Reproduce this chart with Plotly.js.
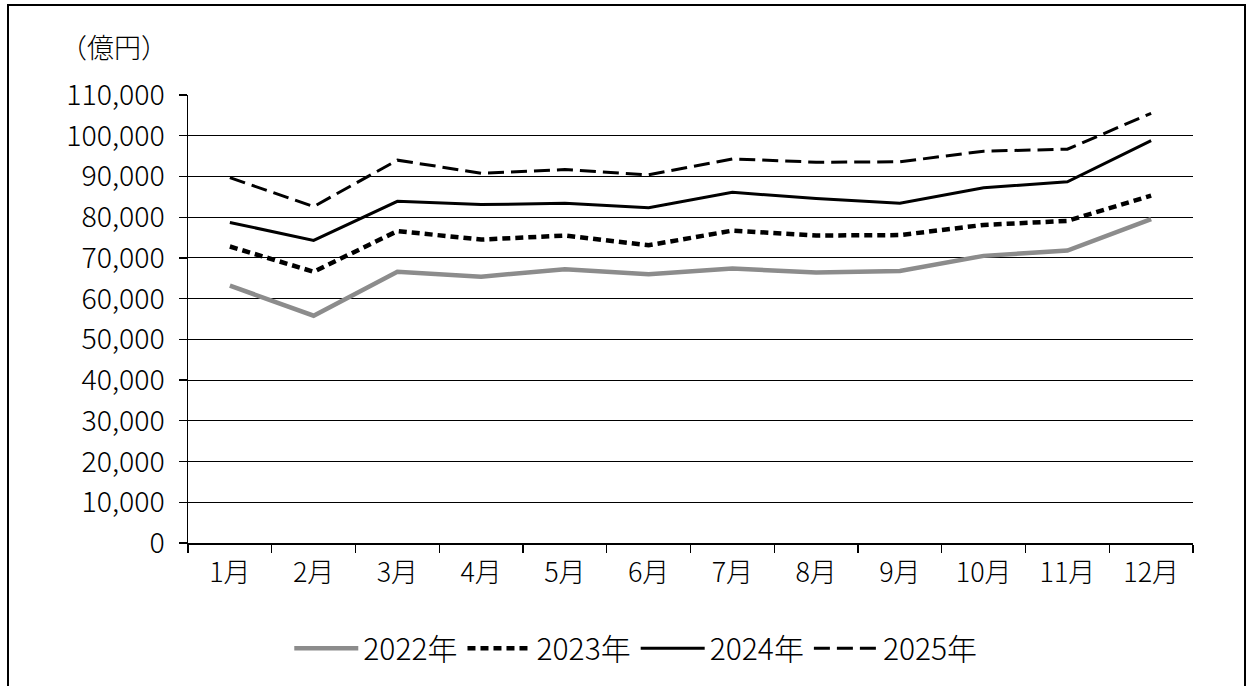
<!DOCTYPE html>
<html>
<head>
<meta charset="utf-8">
<script src="https://cdn.plot.ly/plotly-3.0.1.min.js"></script>
<style>
  html, body { margin: 0; padding: 0; background: #fff; overflow: hidden; }
  #frame { position: absolute; left: 7px; top: 4px; width: 1239px; height: 800px; border: 2px solid #000; box-sizing: border-box; pointer-events: none; z-index: 5; }
  #chart { position: absolute; left: 0; top: 0; width: 1254px; height: 686px; }
</style>
</head>
<body>
<div id="chart"></div>
<div id="frame"></div>
<script>
const months = ["1月","2月","3月","4月","5月","6月","7月","8月","9月","10月","11月","12月"];
const yTickVals = [0,10000,20000,30000,40000,50000,60000,70000,80000,90000,100000,110000];
const seriesNames = ["2022年","2023年","2024年","2025年"];
const v2022 = [63200, 55800, 66600, 65400, 67200, 66000, 67400, 66400, 66800, 70500, 71800, 79500];
const v2023 = [72800, 66600, 76600, 74500, 75500, 73100, 76700, 75500, 75600, 78100, 79100, 85300];
const v2024 = [78700, 74300, 83900, 83100, 83400, 82300, 86100, 84600, 83400, 87200, 88700, 98800];
const v2025 = [89700, 82600, 94000, 90800, 91700, 90400, 94300, 93500, 93600, 96200, 96700, 105500];

const FONT = '"Noto Sans CJK JP Light", "Noto Sans CJK JP", "Noto Sans", sans-serif';
const W = 300;

const traces = [
  {x: months, y: v2022, name: seriesNames[0], type: 'scatter', mode: 'lines',
   line: {color: '#8c8c8c', width: 4.5}},
  {x: months, y: v2023, name: seriesNames[1], type: 'scatter', mode: 'lines',
   line: {color: '#000', width: 4.5, dash: '8px,5px'}},
  {x: months, y: v2024, name: seriesNames[2], type: 'scatter', mode: 'lines',
   line: {color: '#000', width: 3}},
  {x: months, y: v2025, name: seriesNames[3], type: 'scatter', mode: 'lines',
   line: {color: '#000', width: 3, dash: '16px,7px'}}
];

const layout = {
  width: 1254, height: 686,
  paper_bgcolor: 'rgba(0,0,0,0)', plot_bgcolor: '#fff',
  margin: {l: 188, r: 61, t: 95, b: 143},
  font: {family: FONT, size: 28, color: '#000', weight: W},
  showlegend: true,
  legend: {orientation: 'h', xref: 'container', yref: 'container', x: 0.507, xanchor: 'center',
           y: 0.055, yanchor: 'middle', font: {family: FONT, size: 30, color: '#000', weight: W},
           itemwidth: 64, bgcolor: 'rgba(0,0,0,0)', traceorder: 'normal'},
  xaxis: {type: 'category', categoryorder: 'array', categoryarray: months,
          range: [-0.5, 11.5], showgrid: false, zeroline: false,
          showline: true, linecolor: '#000', linewidth: 1.5,
          ticks: 'outside', ticklen: 8, tickwidth: 1.3, tickcolor: '#000', tickson: 'boundaries',
          tickfont: {family: FONT, size: 27, color: '#000', weight: W}, ticklabelstandoff: 5, fixedrange: true},
  xaxis2: {type: 'linear', overlaying: 'x', anchor: 'y', side: 'bottom',
           range: [-0.5, 11.5], tick0: -0.5, dtick: 1, showticklabels: false,
           showgrid: false, zeroline: false, showline: false,
           ticks: 'inside', ticklen: 8, tickwidth: 1.3, tickcolor: '#000'},
  yaxis: {range: [0, 110000], tickvals: yTickVals, tickformat: ',d',
          showgrid: true, gridcolor: '#000', gridwidth: 1, zeroline: false,
          showline: true, linecolor: '#000', linewidth: 1.5,
          ticks: 'outside', ticklen: 8, tickwidth: 1.3, tickcolor: '#000',
          tickfont: {family: FONT, size: 28.5, color: '#000', weight: W}, ticklabelstandoff: 8, fixedrange: true},
  annotations: [
    {text: '（億円）', xref: 'paper', yref: 'paper', x: -0.074, y: 1.108, xanchor: 'center', yanchor: 'middle',
     showarrow: false, font: {family: FONT, size: 27, color: '#000', weight: W}}
  ]
};

Plotly.newPlot('chart', traces, layout, {staticPlot: true, displayModeBar: false});
</script>
</body>
</html>
